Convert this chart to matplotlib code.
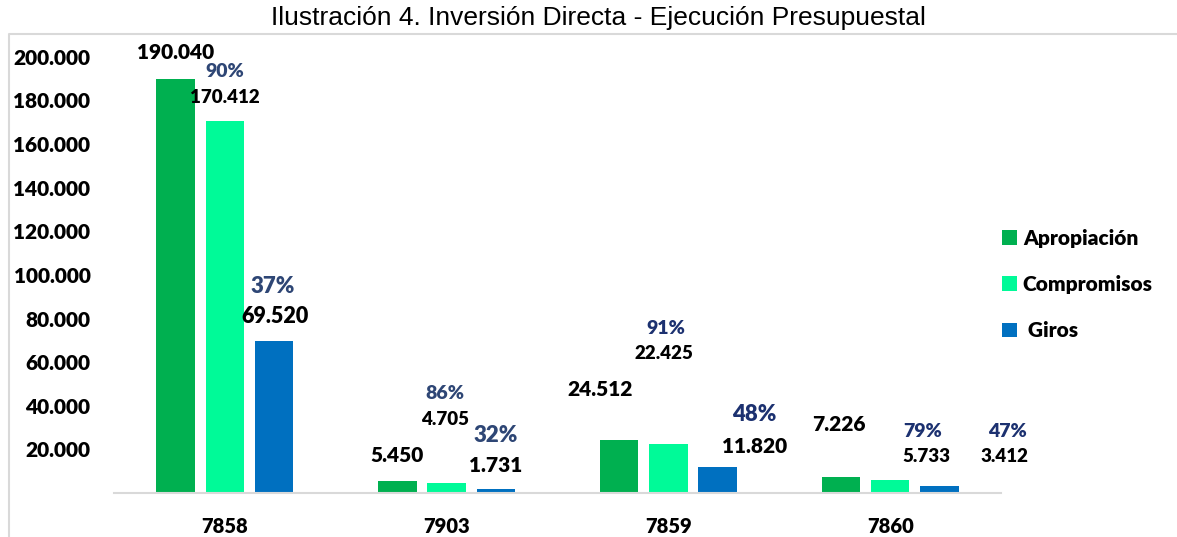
import numpy as np
import matplotlib.pyplot as plt
from matplotlib.patches import Patch
from matplotlib.lines import Line2D

# data
proyectos = ['7858', '7903', '7859', '7860']
apropiacion = [190040, 5450, 24512, 7226]
compromisos = [170412, 4705, 22425, 5733]
giros = [69520, 1731, 11820, 3412]

series = [apropiacion, compromisos, giros]
nombres = ['Apropiación', 'Compromisos', ' Giros']
colores = ['#00B050', '#00FA98', '#0070C0']

W, H = 1177, 537
fig = plt.figure(figsize=(W / 100, H / 100), dpi=100)
ax = fig.add_axes([114 / W, (H - 493) / H, (1001 - 114) / W, (493 - 35) / H])

x = np.arange(len(proyectos))
ancho = 0.174
paso = 0.222
for i, (vals, col) in enumerate(zip(series, colores)):
    ax.bar(x + (i - 1) * paso, vals, ancho, color=col, label=nombres[i], zorder=2)

def fmt(v):
    return f'{v:,}'.replace(',', '.')

# label offsets in pixels (dx, dy above bar top) -- hand placed like the excel chart
off_val = [
    [(0, 26), (0, 24), (1, 25)],
    [(0, 26), (-2, 63), (0, 24)],
    [(-19, 50), (-4, 91), (37, 21)],
    [(-2, 53), (36, 24), (65, 29)],
]
off_pct = [
    [None, (0, 50), (-1, 55)],
    [None, (-2, 89), (0, 54)],
    [None, (-3, 116), (37, 53)],
    [None, (33, 49), (68, 54)],
]
tam_val = [
    [15, 13.5, 15.5],
    [15, 13.5, 15],
    [15, 13.5, 15],
    [15, 13.5, 13.5],
]
tam_pct = [
    [None, 14, 16],
    [None, 14, 16],
    [None, 14, 16],
    [None, 14, 14],
]
col_pct = ['#2E4675', '#2E4675', '#1C3170', '#1C3170']

fuente = 'Lato'
peso = 'heavy'
for j in range(len(proyectos)):
    for i, vals in enumerate(series):
        bx = x[j] + (i - 1) * paso
        v = vals[j]
        dx, dy = off_val[j][i]
        ax.annotate(fmt(v), (bx, v), xytext=(dx, dy), textcoords='offset pixels',
                    ha='center', va='center', fontsize=tam_val[j][i],
                    fontweight=peso, family=fuente, color='black', annotation_clip=False)
        if i > 0:
            pct = round(100 * v / apropiacion[j])
            dx, dy = off_pct[j][i]
            ax.annotate(f'{pct}%', (bx, v), xytext=(dx, dy), textcoords='offset pixels',
                        ha='center', va='center', fontsize=tam_pct[j][i],
                        fontweight=peso, family=fuente, color=col_pct[j],
                        annotation_clip=False)

ax.set_xlim(-0.5, 3.5)
ax.set_ylim(0, 210000)
ax.set_yticks(np.arange(20000, 200001, 20000))
ax.set_yticklabels([fmt(v) for v in range(20000, 200001, 20000)])
ax.set_xticks(x)
ax.set_xticklabels(proyectos)
ax.tick_params(axis='y', length=0, pad=17, labelsize=15)
ax.tick_params(axis='x', length=0, pad=17, labelsize=14.5)
for lab in ax.get_yticklabels() + ax.get_xticklabels():
    lab.set_family(fuente)
    lab.set_fontweight(peso)
for s in ['left', 'right', 'top']:
    ax.spines[s].set_visible(False)
ax.spines['bottom'].set_color('#D9D9D9')
ax.spines['bottom'].set_linewidth(1.5)

# marco del grafico
fig.add_artist(Line2D([9 / W, 9 / W, 1], [0, 1 - 34 / H, 1 - 34 / H],
                      color='#D9D9D9', lw=1.5, transform=fig.transFigure))

fig.text(598 / W, 1 - 18 / H, 'Ilustración 4. Inversión Directa - Ejecución Presupuestal',
         ha='center', va='center', fontsize=19, family='Liberation Sans')

handles = [Patch(facecolor=c, edgecolor='none') for c in colores]
leg = fig.legend(handles, nombres, loc='upper left',
                 bbox_to_anchor=(1002 / W, 1 - 229 / H), bbox_transform=fig.transFigure,
                 frameon=False, handlelength=0.7, handleheight=0.7,
                 handletextpad=0.3, labelspacing=1.3, borderpad=0, borderaxespad=0,
                 prop={'family': fuente, 'weight': peso, 'size': 15})

fig.savefig('out.png', dpi=100)
